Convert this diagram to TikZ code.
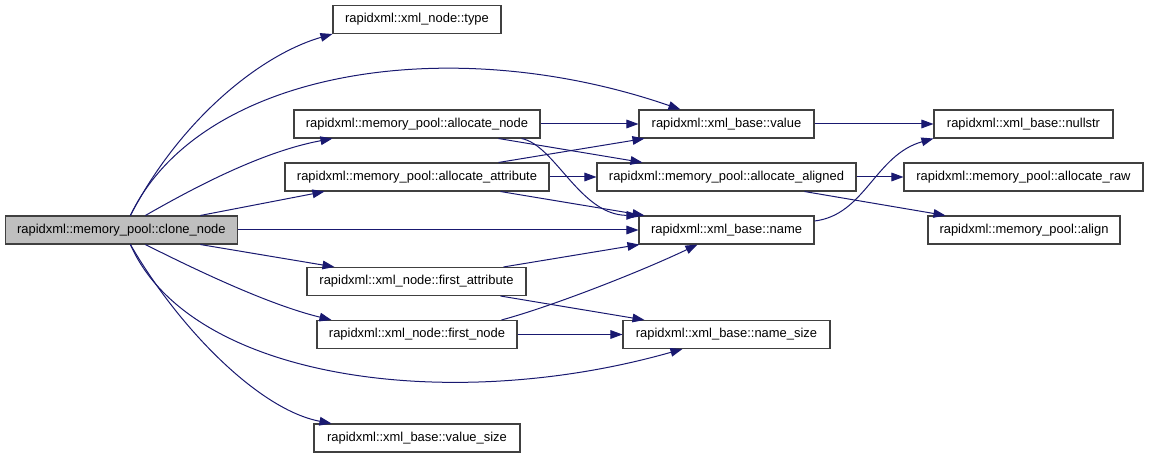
\documentclass[tikz,border=0pt]{standalone}
\usepackage{fontspec}
\setmainfont{Liberation Sans}
\usepackage{tikz}
\usetikzlibrary{calc,arrows.meta}
\definecolor{callNavy}{RGB}{25,25,112}
\definecolor{rootGray}{RGB}{191,191,191}
\definecolor{boxEdge}{RGB}{64,64,64}

\begin{document}
\begin{tikzpicture}[x=0.75pt,y=-0.75pt,
  fn/.style={draw=boxEdge, line width=0.8pt, inner sep=0pt, minimum height=21pt,
    font=\fontsize{9.7}{11}\selectfont},
  call/.style={callNavy, line width=0.75pt, -{Triangle[length=9pt,width=6.5pt]}}]
\useasboundingbox (0,0) rectangle (1149,459);

% the function whose calls are drawn
\node[fn, fill=rootGray, minimum width=173.6pt] (clone) at (121.4,230) {rapidxml::memory\_pool::clone\_node};

% first level
\node[fn, minimum width=126pt] (type) at (417,19.5) {rapidxml::xml\_node::type};
\node[fn, minimum width=184.5pt] (anode) at (417,124) {rapidxml::memory\_pool::allocate\_node};
\node[fn, minimum width=198pt] (aattr) at (417,177) {rapidxml::memory\_pool::allocate\_attribute};
\node[fn, minimum width=164.25pt] (fattr) at (416.5,281.5) {rapidxml::xml\_node::first\_attribute};
\node[fn, minimum width=150pt] (fnode) at (417,334.5) {rapidxml::xml\_node::first\_node};
\node[fn, minimum width=154.5pt] (vsize) at (417,438) {rapidxml::xml\_base::value\_size};

% second level
\node[fn, minimum width=131.25pt] (value) at (726.5,124) {rapidxml::xml\_base::value};
\node[fn, minimum width=194.25pt] (aligned) at (726.5,177) {rapidxml::memory\_pool::allocate\_aligned};
\node[fn, minimum width=131.25pt] (name) at (726.5,230) {rapidxml::xml\_base::name};
\node[fn, minimum width=155.25pt] (nsize) at (726.5,334.5) {rapidxml::xml\_base::name\_size};

% third level
\node[fn, minimum width=134.25pt] (nullstr) at (1023.5,124) {rapidxml::xml\_base::nullstr};
\node[fn, minimum width=179.25pt] (araw) at (1023.5,177) {rapidxml::memory\_pool::allocate\_raw};
\node[fn, minimum width=144pt] (align) at (1024,230) {rapidxml::memory\_pool::align};

% calls from clone_node
\draw[call] ($(clone.north)+(9,0)$) .. controls (180,120) and (260,55) .. (type.south west);
\draw[call] ($(clone.north)+(9,0)$) .. controls (200,70) and (450,30) .. ($(value.north west)+(42,0)$);
\draw[call] ($(clone.north)+(24,0)$) .. controls (190,190) and (260,152) .. ($(anode.south west)+(39,0)$);
\draw[call] ($(clone.north)+(79,0)$) -- ($(aattr.south west)+(40,0)$);
\draw[call] ($(clone.south)+(79,0)$) -- ($(fattr.north west)+(28,0)$);
\draw[call] ($(clone.south)+(24,0)$) .. controls (200,272) and (270,305) .. ($(fnode.north west)+(15,0)$);
\draw[call] ($(clone.south)+(9,0)$) .. controls (190,380) and (450,415) .. ($(nsize.south west)+(60,0)$);
\draw[call] ($(clone.south)+(9,0)$) .. controls (180,330) and (260,410) .. ($(vsize.north west)+(18,0)$);

% straight calls along a row
\foreach \a/\b in {clone/name,anode/value,aattr/aligned,fnode/nsize,value/nullstr,aligned/araw}{
  \draw[call] (\a.east) -- (\b.west);
}

% the other calls
\draw[call] ($(anode.south east)+(-42,0)$) -- ($(aligned.north west)+(46,0)$);
\draw[call] ($(anode.south east)+(-19,0)$) .. controls (555,145) and (580,215) .. (name.north west);
\draw[call] ($(aattr.north east)+(-51,0)$) -- ($(value.south west)+(6,0)$);
\draw[call] ($(aattr.south east)+(-49,0)$) -- ($(name.north west)+(6,0)$);
\draw[call] ($(fattr.north east)+(-23,0)$) -- ($(name.south west)+(1,0)$);
\draw[call] ($(fattr.south east)+(-26,0)$) -- ($(nsize.north west)+(22,0)$);
\draw[call] ($(fnode.north east)+(-16,0)$) .. controls (550,307) and (640,272) .. ($(name.south west)+(59,0)$);
\draw[call] ($(aligned.south east)+(-52,0)$) -- ($(align.north west)+(18,0)$);
\draw[call] ($(name.east)+(0,-9)$) .. controls (865,215) and (875,155) .. (nullstr.south west);
\end{tikzpicture}
\end{document}
